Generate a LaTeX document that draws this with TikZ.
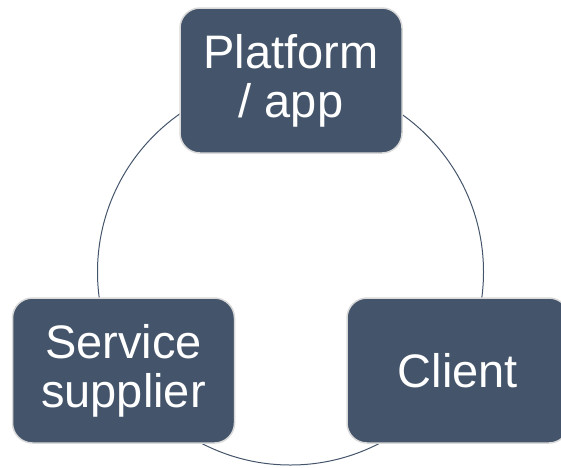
\documentclass[tikz,border=0pt]{standalone}
\usepackage{fontspec}
\setmainfont{Liberation Sans}
\definecolor{boxfill}{HTML}{44546A}
\definecolor{boxedge}{HTML}{D9D9D9}
\definecolor{ringcol}{HTML}{44546A}
\tikzset{
  rolebox/.style={draw=boxedge, line width=1.5pt, fill=boxfill, rounded corners=20pt,
    minimum width=222pt, minimum height=145pt, text=white, align=center,
    font=\fontsize{47}{49}\selectfont, inner sep=0pt},
  ring/.style={draw=ringcol, line width=1pt}
}
\begin{document}
\begin{tikzpicture}[x=1pt,y=-1pt]
\useasboundingbox (0,0) rectangle (561,467);
\clip (0,0) rectangle (561,467);
\coordinate (ringc) at (290.5,272);
\draw[ring] (ringc) circle [radius=193pt];
\node[rolebox] (platform) at (291,80.5) {Platform\\/ app};
\node[rolebox] (supplier) at (123.5,370.5) {Service\\supplier};
\node[rolebox] (client) at (458,370.5) {Client};
\end{tikzpicture}
\end{document}
